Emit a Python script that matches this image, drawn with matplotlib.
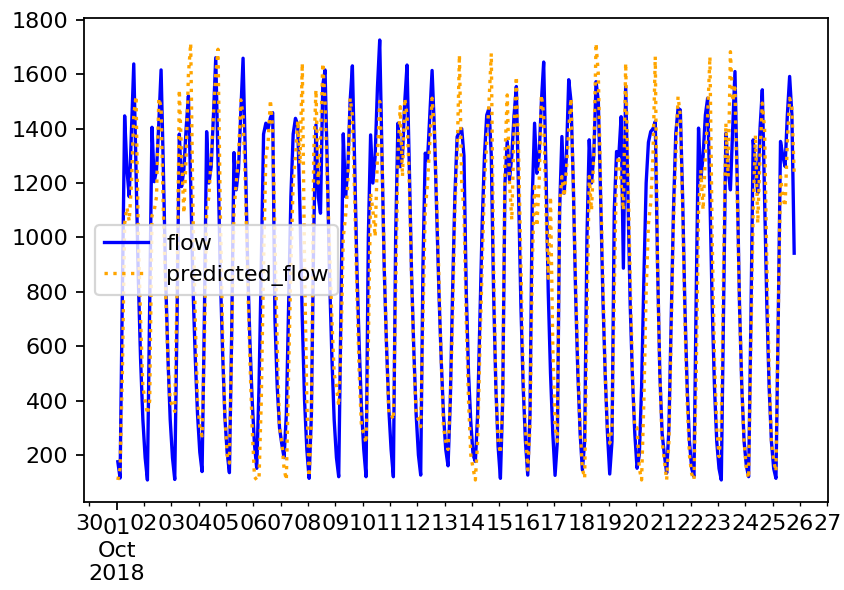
import numpy as np
import pandas as pd
import matplotlib
matplotlib.use("Agg")
import matplotlib.pyplot as plt
import matplotlib.dates as mdates

# two-hourly readings (01:00, 03:00, ... 23:00), one day per line
flow_w1 = [
    175, 115, 800, 1447, 1250, 1150, 1400, 1638, 1250, 850, 550, 330,   # Oct 1
    190, 108, 750, 1405, 1205, 1250, 1420, 1616, 1250, 850, 560, 330,   # Oct 2
    190, 110, 700, 1380, 1187, 1250, 1400, 1520, 1200, 820, 560, 350,   # Oct 3
    210, 139, 700, 1389, 1200, 1260, 1450, 1661, 1280, 870, 580, 340,   # Oct 4
    210, 135, 650, 1312, 1175, 1250, 1460, 1659, 1300, 900, 620, 400,   # Oct 5
    240, 151, 450, 900, 1380, 1420, 1400, 1440, 1459, 700, 450, 300,    # Oct 6
    240, 190, 350, 750, 1150, 1380, 1438, 1414, 1100, 700, 400, 220,    # Oct 7
]
flow_w2 = [
    114, 350, 1000, 1414, 1150, 1089, 1560, 1616, 1250, 850, 560, 330,  # Oct 8
    190, 120, 750, 1381, 1150, 1250, 1500, 1631, 1270, 880, 600, 370,   # Oct 9
    220, 120, 1000, 1377, 1200, 1300, 1550, 1726, 1300, 880, 600, 370,  # Oct 10
    220, 120, 1000, 1420, 1260, 1300, 1500, 1634, 1260, 860, 580, 350,  # Oct 11
    200, 126, 900, 1310, 1285, 1450, 1614, 1400, 1100, 800, 550, 350,   # Oct 12
    220, 160, 400, 800, 1150, 1370, 1389, 1400, 1300, 800, 500, 320,    # Oct 13
    200, 176, 350, 700, 1050, 1300, 1450, 1475, 1300, 800, 450, 230,    # Oct 14
]
flow_w3 = [
    114, 400, 1200, 1353, 1212, 1300, 1450, 1555, 1150, 750, 450, 250,  # Oct 15
    126, 350, 1150, 1420, 1236, 1300, 1500, 1645, 1250, 800, 500, 280,  # Oct 16
    125, 250, 1100, 1371, 1163, 1300, 1580, 1500, 1200, 800, 500, 280,  # Oct 17
    145, 250, 1000, 1359, 1200, 1300, 1573, 1500, 1150, 780, 500, 280,  # Oct 18
    130, 250, 1100, 1316, 1300, 1444, 887, 1555, 1150, 750, 480, 280,   # Oct 19
    151, 200, 450, 850, 1200, 1350, 1389, 1400, 1426, 900, 500, 280,    # Oct 20
    200, 133, 300, 700, 1100, 1380, 1475, 1469, 1150, 750, 450, 250,    # Oct 21
]
flow_w4 = [
    150, 120, 800, 1402, 1212, 1300, 1450, 1512, 1150, 750, 450, 250,   # Oct 22
    150, 108, 750, 1383, 1250, 1175, 1400, 1610, 1200, 750, 450, 250,   # Oct 23
    160, 120, 700, 1359, 1250, 1163, 1400, 1543, 1150, 750, 450, 250,   # Oct 24
    150, 114, 700, 1353, 1300, 1261, 1450, 1592, 1450, 942,             # Oct 25
]

pred_w1 = [
    108, 150, 500, 1050, 1110, 1060, 1200, 1450, 1520, 1000, 700, 450,
    400, 350, 400, 1080, 1100, 1150, 1512, 1480, 1100, 800, 550, 400,
    380, 360, 800, 1543, 1300, 1089, 1300, 1600, 1714, 1100, 700, 400,
    300, 270, 600, 1100, 1150, 1300, 1450, 1600, 1692, 1100, 650, 350,
    200, 170, 600, 1100, 1200, 1300, 1506, 1450, 1200, 850, 550, 300,
    120, 108, 110, 400, 900, 1300, 1350, 1506, 1400, 1000, 600, 300,
    250, 150, 108, 500, 900, 1200, 1300, 1430, 1270, 1641, 900, 400,
]
pred_w2 = [
    120, 300, 1300, 1543, 1200, 1350, 1641, 1500, 1200, 950, 700, 500,
    450, 380, 600, 1000, 1077, 1200, 1512, 1450, 1150, 800, 500, 300,
    280, 243, 600, 1163, 1100, 1003, 1300, 1500, 1300, 900, 600, 350,
    350, 329, 800, 1300, 1481, 1224, 1512, 1450, 1200, 850, 550, 350,
    330, 304, 700, 1101, 1200, 1350, 1512, 1400, 1150, 850, 550, 300,
    250, 220, 400, 700, 1100, 1300, 1671, 1200, 1100, 700, 400, 200,
    150, 108, 250, 600, 900, 1200, 1350, 1500, 1677, 900, 450, 250,
]
pred_w3 = [
    206, 400, 1300, 1524, 1200, 1064, 1400, 1592, 1300, 900, 500, 300,
    145, 300, 900, 1200, 1040, 1200, 1524, 1450, 1100, 850, 1150, 600,
    300, 250, 1126, 1224, 1150, 1250, 1400, 1512, 1200, 850, 550, 300,
    150, 114, 700, 1224, 1100, 1300, 1714, 1600, 1200, 850, 500, 300,
    243, 300, 800, 1261, 1300, 1200, 1100, 1641, 1250, 850, 500, 300,
    300, 150, 108, 400, 800, 1050, 1126, 1300, 1665, 900, 500, 250,
    180, 108, 250, 650, 1050, 1300, 1518, 1450, 1100, 700, 400, 200,
]
pred_w4 = [
    130, 108, 500, 1100, 1248, 1101, 1300, 1450, 1665, 1000, 550, 300,
    194, 300, 900, 1420, 1224, 1683, 1500, 1550, 1150, 750, 450, 250,
    150, 114, 600, 1100, 1377, 1052, 1300, 1494, 1400, 900, 500, 250,
    180, 139, 700, 1224, 1150, 1113, 1350, 1512, 1480, 1236,
]

flow = np.array(flow_w1 + flow_w2 + flow_w3 + flow_w4)
predicted_flow = np.array(pred_w1 + pred_w2 + pred_w3 + pred_w4)
times = pd.date_range("2018-10-01 01:00", periods=len(flow), freq="2h")

DPI = 160
fig = plt.figure(figsize=(844 / DPI, 590 / DPI), dpi=DPI)
ax = fig.add_subplot(111)
fig.subplots_adjust(left=84 / 844, right=828 / 844, top=1 - 18 / 590, bottom=1 - 502 / 590)

ax.plot(times.to_pydatetime(), flow, color="blue", label="flow")
ax.plot(times.to_pydatetime(), predicted_flow, color="orange", linestyle=":", label="predicted_flow")

ax.set_ylim(27, 1807)
ax.xaxis.set_major_locator(mdates.MonthLocator())
ax.xaxis.set_major_formatter(mdates.DateFormatter("%d\n%b\n%Y"))
ax.xaxis.set_minor_locator(mdates.DayLocator())
ax.xaxis.set_minor_formatter(mdates.DateFormatter("%d"))

ax.legend(loc="center left")

fig.savefig("out.png", dpi=DPI)
